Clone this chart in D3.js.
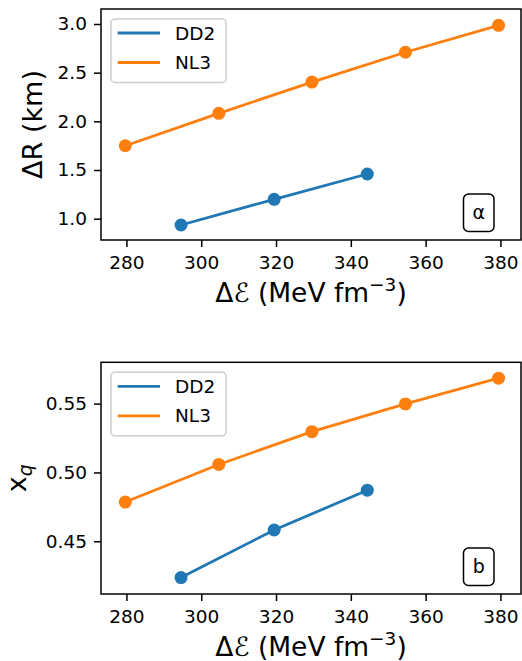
<!DOCTYPE html>
<html>
<head>
<meta charset="utf-8">
<script src="https://cdn.jsdelivr.net/npm/d3@7"></script>
<style>
  body { margin: 0; background: #fff; }
  svg { display: block; }
</style>
</head>
<body>
<div id="chart"></div>
<script>
const energyDD2 = [294.6, 319.5, 344.4];
const energyNL3 = [279.7, 304.7, 329.6, 354.6, 379.5];
const dRDD2 = [0.935, 1.199, 1.459];
const dRNL3 = [1.749, 2.082, 2.403, 2.71, 2.986];
const xqDD2 = [0.4236, 0.4582, 0.4871];
const xqNL3 = [0.4785, 0.5058, 0.5296, 0.5498, 0.5685];
const seriesNames = ["DD2", "NL3"];
const energyTicks = [280, 300, 320, 340, 360, 380];
const dRTicks = [1.0, 1.5, 2.0, 2.5, 3.0];
const xqTicks = [0.45, 0.50, 0.55];

const width = 522, height = 661;
const colors = ["#1f77b4", "#ff7f0e"];
const font = "DejaVu Sans, sans-serif";

const svg = d3.select("#chart").append("svg")
  .attr("width", width)
  .attr("height", height)
  .attr("font-family", font);

const x = d3.scaleLinear().domain([273.2, 385.5]).range([101, 521]);

const panels = [
  { top: 9, bottom: 240, domain: [0.781, 3.154], ticks: dRTicks, fmt: d3.format(".1f"),
    series: [dRDD2, dRNL3], tag: "α", label: "dR" },
  { top: 362.3, bottom: 594, domain: [0.4117, 0.580], ticks: xqTicks, fmt: d3.format(".2f"),
    series: [xqDD2, xqNL3], tag: "b", label: "xq" }
];

const energies = [energyDD2, energyNL3];

panels.forEach(p => {
  const y = d3.scaleLinear().domain(p.domain).range([p.bottom, p.top]);
  const g = svg.append("g");

  // x axis
  const xa = g.append("g")
    .attr("transform", `translate(0,${p.bottom})`)
    .call(d3.axisBottom(x).tickValues(energyTicks).tickSize(7).tickPadding(9));
  // y axis
  const ya = g.append("g")
    .attr("transform", `translate(101,0)`)
    .call(d3.axisLeft(y).tickValues(p.ticks).tickFormat(p.fmt).tickSize(7).tickPadding(7));

  [xa, ya].forEach(a => {
    a.select(".domain").remove();
    a.selectAll("line").attr("stroke", "#000").attr("stroke-width", 1.5);
    a.selectAll("text").attr("font-size", 18.5).attr("font-family", font).attr("fill", "#000");
  });

  // lines + markers
  p.series.forEach((vals, i) => {
    const pts = vals.map((v, j) => [energies[i][j], v]);
    g.append("path")
      .datum(pts)
      .attr("fill", "none")
      .attr("stroke", colors[i])
      .attr("stroke-width", 2.8)
      .attr("d", d3.line().x(d => x(d[0])).y(d => y(d[1])));
    g.selectAll(null)
      .data(pts)
      .join("circle")
      .attr("cx", d => x(d[0]))
      .attr("cy", d => y(d[1]))
      .attr("r", 6.5)
      .attr("fill", colors[i]);
  });

  // frame
  g.append("rect")
    .attr("x", 101).attr("y", p.top)
    .attr("width", 521 - 101).attr("height", p.bottom - p.top)
    .attr("fill", "none").attr("stroke", "#000").attr("stroke-width", 1.5);

  // legend
  const lg = g.append("g").attr("transform", `translate(111,${p.top + 10})`);
  lg.append("rect")
    .attr("width", 115).attr("height", 63.5).attr("rx", 4)
    .attr("fill", "#fff").attr("fill-opacity", 0.8)
    .attr("stroke", "#cccccc").attr("stroke-width", 1.5);
  seriesNames.forEach((name, i) => {
    const ly = 14 + i * 29.5;
    lg.append("line")
      .attr("x1", 6.7).attr("x2", 49).attr("y1", ly).attr("y2", ly)
      .attr("stroke", colors[i]).attr("stroke-width", 2.8);
    lg.append("text")
      .attr("x", 64).attr("y", ly).attr("dy", "0.36em")
      .attr("font-size", 18.5)
      .text(name);
  });

  // tag box
  const bx = 463.5, bw = 30.5, bh = 37.5, by = p.bottom - 8.5 - bh;
  g.append("rect")
    .attr("x", bx).attr("y", by).attr("width", bw).attr("height", bh).attr("rx", 5)
    .attr("fill", "#fff").attr("stroke", "#000").attr("stroke-width", 1.5);
  g.append("text")
    .attr("x", bx + bw / 2).attr("y", by + bh / 2).attr("dy", "0.35em")
    .attr("text-anchor", "middle").attr("font-size", 19)
    .text(p.tag);

  // x label
  const xl = g.append("text")
    .attr("x", 311).attr("y", p.bottom + 61.5)
    .attr("text-anchor", "middle").attr("font-size", 26.5);
  xl.append("tspan").text("Δℰ (MeV fm");
  xl.append("tspan").attr("font-size", 18.5).attr("dy", -11).text("−3");
  xl.append("tspan").attr("dy", 11).text(")");

  // y label
  const cy = (p.top + p.bottom) / 2;
  const yl = g.append("text")
    .attr("transform", `translate(${p.label === "dR" ? 42 : 26},${cy}) rotate(-90)`)
    .attr("text-anchor", "middle").attr("font-size", 27);
  if (p.label === "dR") {
    yl.text("ΔR (km)");
  } else {
    yl.append("tspan").text("x");
    yl.append("tspan").attr("font-size", 19).attr("font-style", "italic").attr("dy", 6).text("q");
  }
});
</script>
</body>
</html>
